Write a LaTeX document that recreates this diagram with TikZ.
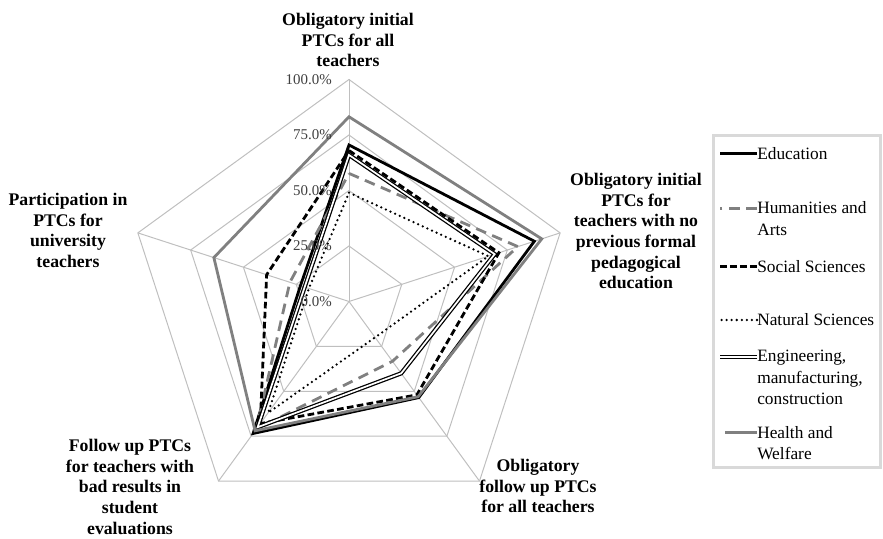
\documentclass[tikz,border=0pt]{standalone}
\usepackage{fontspec}
\setmainfont{Liberation Serif}
\definecolor{gridgray}{HTML}{BFBFBF}
\definecolor{seriesgray}{HTML}{808080}
\definecolor{tickgray}{HTML}{404040}
\definecolor{boxgray}{HTML}{D9D9D9}
\tikzset{
  gridline/.style={draw=gridgray, line width=0.75pt},
  edu/.style={line width=2.1pt, black},
  hum/.style={line width=2.1pt, seriesgray, dash pattern=on 8pt off 5pt},
  soc/.style={line width=2.1pt, black, dash pattern=on 5pt off 2.5pt},
  nat/.style={line width=1.9pt, black, line cap=round, dash pattern=on 0pt off 3.8pt},
  eng/.style={line width=0.95pt, black, double=white, double distance=1.3pt},
  hea/.style={line width=2.1pt, seriesgray},
  axis lbl/.style={font=\bfseries\fontsize{13.3}{15.5}\selectfont, align=center, inner sep=0pt, anchor=north},
  tick lbl/.style={font=\fontsize{11.2}{12}\selectfont, text=tickgray, inner sep=0pt, anchor=east},
  leg lbl/.style={font=\fontsize{13}{16}\selectfont, align=left, inner sep=0pt}
}
\begin{document}
\begin{tikzpicture}[x=0.75pt,y=0.75pt]
\useasboundingbox (0,0) rectangle (883,539);
% radar grid and series
\begin{scope}[shift={(349,237.5)},scale=222]
\foreach \r in {0.25,0.5,0.75,1}
  \draw[gridline] (90:\r) -- (18:\r) -- (-54:\r) -- (-126:\r) -- (162:\r) -- cycle;
\foreach \a in {90,18,-54,-126,162}
  \draw[gridline] (0,0) -- (\a:1);
\draw[edu] (90:0.705) -- (18:0.878) -- (-54:0.535) -- (-126:0.735) -- (162:0.23) -- cycle;
\draw[hum] (90:0.577) -- (18:0.80) -- (-54:0.333) -- (-126:0.71) -- (162:0.28) -- cycle;
\draw[soc] (90:0.68) -- (18:0.71) -- (-54:0.52) -- (-126:0.68) -- (162:0.39) -- cycle;
\draw[nat] (90:0.49) -- (18:0.66) -- (-54:0.20) -- (-126:0.62) -- (162:0.19) -- cycle;
\draw[eng] (90:0.66) -- (18:0.69) -- (-54:0.40) -- (-126:0.70) -- (162:0.21) -- cycle;
\draw[hea] (90:0.832) -- (18:0.913) -- (-54:0.53) -- (-126:0.72) -- (162:0.64) -- cycle;
\end{scope}
% tick labels
\foreach \k/\t in {0/0.0,1/25.0,2/50.0,3/75.0,4/100.0}
  \node[tick lbl] (tick\k) at (332,{237.5+55.5*\k}) {\t\%};
% axis labels
\node[axis lbl] (lblInitAll) at (348,526) {Obligatory initial\\PTCs for all\\teachers};
\node[axis lbl] (lblInitNoPed) at (636,366) {Obligatory initial\\PTCs for\\teachers with no\\previous formal\\pedagogical\\education};
\node[axis lbl] (lblFollowAll) at (538,80) {Obligatory\\follow up PTCs\\for all teachers};
\node[axis lbl] (lblFollowBad) at (130,100) {Follow up PTCs\\for teachers with\\bad results in\\student\\evaluations};
\node[axis lbl] (lblPart) at (68,346) {Participation in\\PTCs for\\university\\teachers};
% legend
\draw[draw=boxgray, line width=2.25pt] (713,403) rectangle (880,71);
\node[leg lbl, anchor=west] (lgEdu) at (757,385.7) {Education};
\node[leg lbl, anchor=north west] (lgHum) at (757,337.3) {Humanities and\\Arts};
\node[leg lbl, anchor=west] (lgSoc) at (757,272.3) {Social Sciences};
\node[leg lbl, anchor=west] (lgNat) at (757,219) {Natural Sciences};
\node[leg lbl, anchor=north west] (lgEng) at (757,188.8) {Engineering,\\manufacturing,\\construction};
\node[leg lbl, anchor=north west] (lgHea) at (757,112.8) {Health and\\Welfare};
\draw[edu] (lgEdu.west) -- ++(-37,0);
\draw[hum] ([yshift=-5pt]lgHum.north west) -- ++(-37,0);
\draw[soc] (lgSoc.west) -- ++(-37,0);
\draw[nat] (lgNat.west) -- ++(-37,0);
\draw[eng] ([yshift=-5pt]lgEng.north west) -- ++(-37,0);
\draw[hea] ([yshift=-5pt]lgHea.north west) -- ++(-32,0);
\end{tikzpicture}
\end{document}
